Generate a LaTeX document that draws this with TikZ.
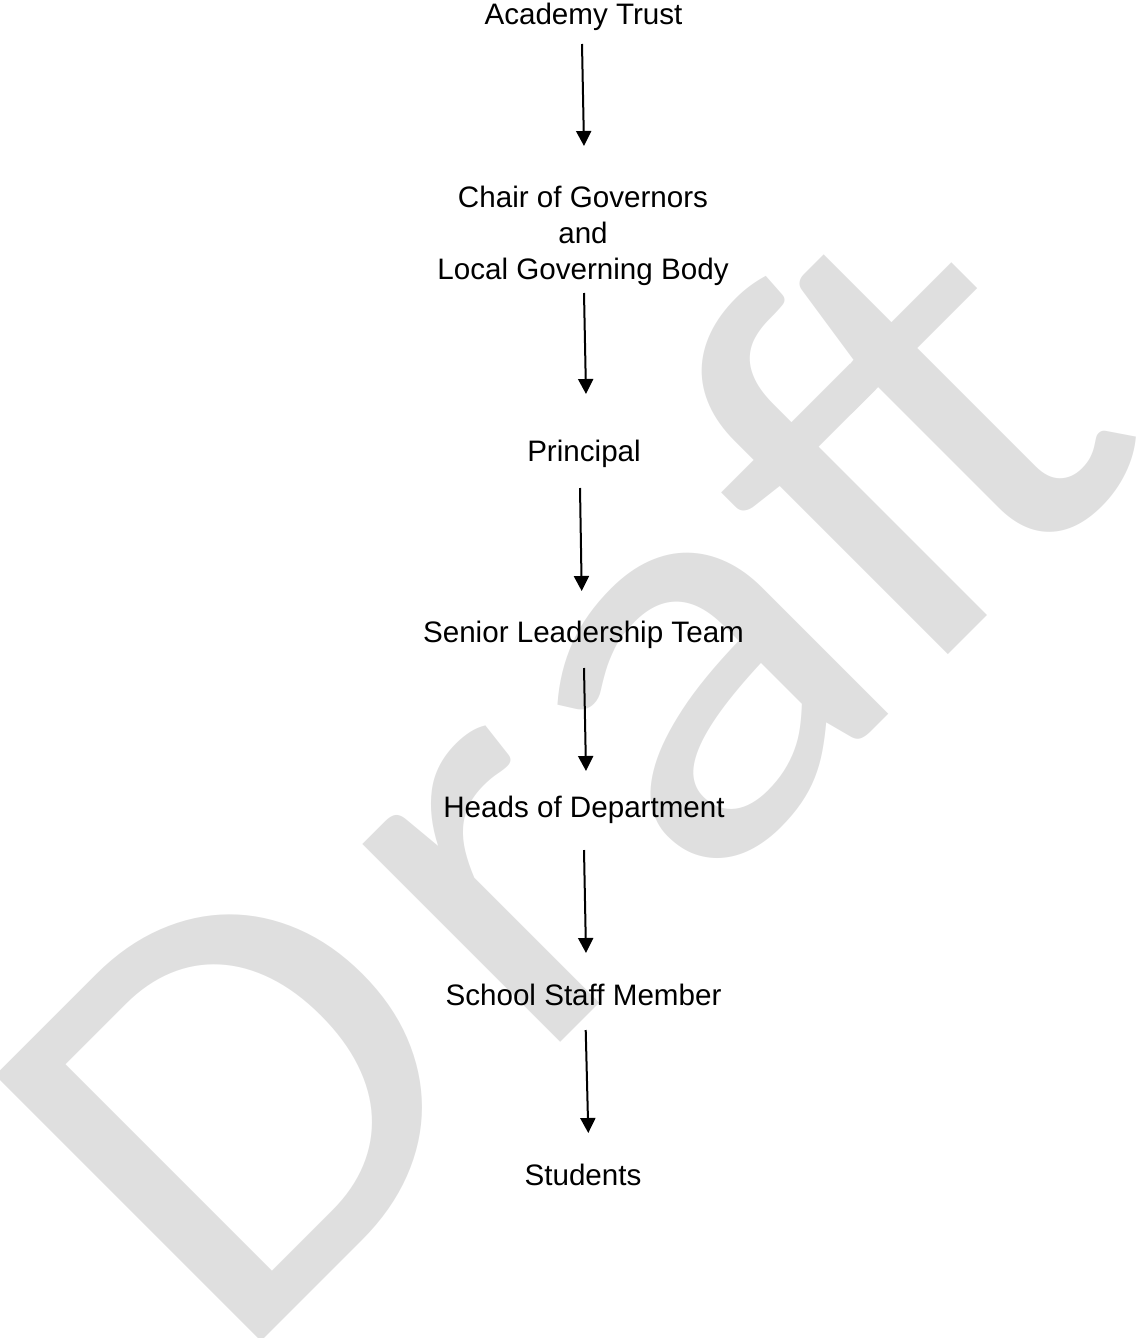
\documentclass[tikz,border=0pt]{standalone}
\usepackage{fontspec}
\setmainfont{Liberation Sans}
\newfontfamily\wmfont[Ligatures={NoCommon,NoRequired,NoContextual},Kerning=Off]{Carlito}
\usetikzlibrary{arrows.meta}
\definecolor{wmgray}{RGB}{223,223,223}
\begin{document}
\begin{tikzpicture}[x=1pt,y=-1pt,
  lbl/.style={inner sep=0pt, anchor=base, font=\fontsize{29.6}{36}\selectfont, align=center},
  arr/.style={line width=2pt, -{Triangle[length=15pt,width=15pt]}},
  wm/.style={inner sep=0pt, anchor=base west, text=wmgray, font=\wmfont\fontsize{586}{600}\selectfont, rotate=45, xscale=1.1}]
\useasboundingbox (0,0) rectangle (1145,1338);
\node[wm] (draft) at (230,1373) {D\kern27pt r\kern11pt a\kern-9pt f\kern-55pt t};
\node[lbl] (trust) at (583.5,25) {Academy Trust};
\node[lbl] (chair) at (583,279) {Chair of Governors\\and\\Local Governing Body};
\node[lbl] (principal) at (584,461) {Principal};
\node[lbl] (slt) at (583.5,642) {Senior Leadership Team};
\node[lbl] (hod) at (584,817) {Heads of Department};
\node[lbl] (ssm) at (583.5,1005) {School Staff Member};
\node[lbl] (students) at (583,1185) {Students};
\draw[arr] ([xshift=-1.5pt,yshift=-19pt]trust.base) -- ([xshift=1pt,yshift=133pt]chair.base);
\draw[arr] ([xshift=1pt,yshift=-14pt]chair.base) -- ([xshift=2pt,yshift=67pt]principal.base);
\draw[arr] ([xshift=-4pt,yshift=-27pt]principal.base) -- ([xshift=-1.8pt,yshift=51pt]slt.base);
\draw[arr] ([xshift=0.5pt,yshift=-26pt]slt.base) -- ([xshift=2pt,yshift=46pt]hod.base);
\draw[arr] ([xshift=0pt,yshift=-33pt]hod.base) -- ([xshift=2.5pt,yshift=52pt]ssm.base);
\draw[arr] ([xshift=2.2pt,yshift=-25pt]ssm.base) -- ([xshift=5.3pt,yshift=52pt]students.base);
\end{tikzpicture}
\end{document}
